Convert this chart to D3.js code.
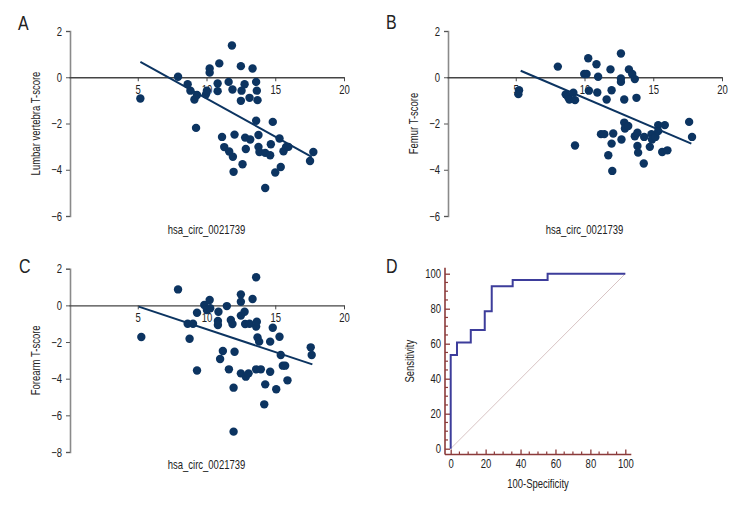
<!DOCTYPE html>
<html>
<head>
<meta charset="utf-8">
<script src="https://cdn.jsdelivr.net/npm/d3@7"></script>
<style>
  body { margin: 0; background: #fff; }
  svg text { font-family: "Liberation Sans", Arial, sans-serif; fill: #222; }
</style>
</head>
<body>
<svg id="chart" width="756" height="516"></svg>
<script>
// ---------- DATA ----------
const lumbarX = [5.19,7.93,8.63,8.83,9.12,9.31,9.24,9.96,10.03,10.23,10.23,10.81,10.81,10.93,11.13,11.29,11.61,11.65,11.85,11.89,11.92,11.97,12.04,12.5,12.55,12.5,12.62,12.77,12.81,12.86,13.13,13.18,13.35,13.61,13.66,13.71,13.61,13.78,13.78,13.85,14.27,14.63,14.27,14.68,14.82,15.0,15.31,15.4,15.6,15.79,15.96,17.53,17.77];
const lumbarY = [-0.92,0.02,-0.30,-0.58,-0.96,-0.77,-2.19,-0.74,-0.58,0.38,0.20,-0.27,-0.60,0.60,-2.58,-3.02,-0.20,-3.21,1.37,-0.53,-3.44,-4.09,-2.48,0.48,-0.58,-1.02,-3.76,-0.30,-2.61,-3.10,-0.89,-2.69,0.38,-0.20,-0.58,-0.99,-1.88,-2.50,-3.01,-3.23,-3.27,-3.37,-4.79,-2.90,-1.93,-4.12,-2.65,-3.88,-3.20,-3.01,-3.01,-3.62,-3.23];
const lumbarFitX = [5.19, 17.65];
const lumbarFitY = [0.67, -3.44];

const femurX = [5.24,5.19,8.06,8.63,8.80,8.90,9.19,9.31,9.31,9.98,10.15,10.27,10.32,10.87,10.99,10.93,11.20,11.44,11.61,11.73,11.89,11.97,11.97,12.09,12.02,12.65,12.65,12.65,12.69,12.89,12.89,12.94,13.18,13.23,13.47,13.66,13.66,13.78,13.85,13.85,13.90,14.31,14.34,14.75,14.87,14.91,15.16,15.36,15.36,15.65,15.84,16.03,17.61,17.82];
const femurY = [-0.56,-0.73,0.46,-0.74,-0.85,-0.96,-0.67,-0.99,-2.95,0.14,0.14,0.82,-0.58,0.56,0.02,-0.66,-2.46,-2.46,-0.96,-3.37,0.34,-0.56,-2.87,-2.43,-4.05,1.03,-0.05,-0.20,-2.69,-0.96,-1.96,-2.22,-2.11,0.34,0.14,-0.08,-2.55,-0.89,-2.40,-2.97,-3.26,-3.73,-2.58,-3.01,-2.46,-2.69,-2.58,-2.07,-2.33,-3.23,-2.07,-3.16,-1.93,-2.58];
const femurFitX = [5.36, 17.77];
const femurFitY = [0.28, -2.87];

const forearmX = [5.26,7.93,8.63,8.77,9.02,9.31,9.31,9.84,10.03,10.23,10.27,10.87,10.83,10.83,10.99,11.19,11.48,11.63,11.77,11.89,11.97,11.97,12.04,12.5,12.5,12.5,12.5,12.77,12.81,12.86,13.06,13.13,13.35,13.61,13.61,13.66,13.71,13.83,13.61,13.95,14.2,14.27,14.63,14.63,14.82,15.07,15.31,15.4,15.55,15.72,15.89,17.58,17.65];
const forearmY = [-1.73,0.87,-1.0,-1.82,-1.0,-0.4,-3.55,0.02,-0.25,0.29,-0.16,-0.35,-0.85,-1.07,-2.93,-2.49,-0.04,-3.49,-0.8,-1.02,-4.49,-6.89,-2.53,0.6,0.2,-0.56,-3.71,-0.35,-1.02,-3.89,-3.71,-1.0,0.35,1.53,-1.16,-0.89,-1.75,-1.98,-3.49,-3.49,-5.4,-4.31,-3.62,-1.98,-1.22,-4.58,-1.71,-2.71,-3.29,-3.29,-4.09,-2.29,-2.71];
const forearmFitX = [5.07, 17.7];
const forearmFitY = [-0.07, -3.22];

const rocFpr = [0, 0, 3.6, 11.5, 19.5, 23.5, 35.5, 55.5, 100];
const rocTpr = [0, 53.6, 60.7, 67.9, 78.6, 92.9, 96.4, 100, 100];

const scatterXTicks = [5, 10, 15, 20];
const lumbarYTicks = [2, 0, -2, -4, -6];
const femurYTicks = [2, 0, -2, -4, -6];
const forearmYTicks = [2, 0, -2, -4, -6, -8];
const rocTicks = [0, 20, 40, 60, 80, 100];

const panelLetters = ["A", "B", "C", "D"];
const xTitle = "hsa_circ_0021739";
const yTitles = ["Lumbar vertebra T-score", "Femur T-score", "Forearm T-score", "Sensitivity"];
const rocXTitle = "100-Specificity";

// ---------- DRAW ----------
const svg = d3.select("#chart");
const DOT = "#0c3461";
const SX = 0.76; // horizontal condensing of text

function condenseAxisText(axisG) {
  axisG.selectAll("text").each(function () {
    const t = d3.select(this);
    const x0 = +(t.attr("x") || 0);
    t.attr("x", x0 / SX).attr("transform", `scale(${SX},1)`);
  });
}
function label(g, x, y, str, size, anchor, rot) {
  return g.append("text")
    .attr("transform", `translate(${x},${y}) rotate(${rot || 0}) scale(${SX},1)`)
    .attr("text-anchor", anchor || "start")
    .style("font-size", size + "px").text(str);
}

function scatterPanel(ox, xs, ys, fitX, fitY, yDomain, yRange, yTicks, yTitle, letter, pos) {
  const g = svg.append("g");
  const x = d3.scaleLinear().domain([0, 20]).range([ox + 69, ox + 344]);
  const y = d3.scaleLinear().domain(yDomain).range(yRange);

  const ya = g.append("g").attr("transform", `translate(${ox + 70},0)`)
    .call(d3.axisLeft(y).tickValues(yTicks).tickFormat(d => d < 0 ? "\u2212" + Math.abs(d) : d).tickSize(4).tickPadding(4));
  ya.select(".domain").attr("stroke", "#8a8a8a").attr("stroke-width", 1.6);
  ya.selectAll(".tick line").attr("stroke", "#555");
  ya.selectAll("text").style("font-size", "12.5px").attr("fill", "#222");
  condenseAxisText(ya);

  const xa = g.append("g").attr("transform", `translate(0,${y(0)})`)
    .call(d3.axisBottom(x).tickValues(scatterXTicks).tickSize(4).tickPadding(4).tickSizeOuter(0));
  xa.select(".domain").attr("stroke", "#444").attr("stroke-width", 1.3);
  xa.selectAll(".tick line").attr("stroke", "#444");
  xa.selectAll("text").style("font-size", "12.5px").attr("fill", "#222");
  condenseAxisText(xa);

  g.append("line")
    .attr("x1", x(fitX[0])).attr("y1", y(fitY[0]))
    .attr("x2", x(fitX[1])).attr("y2", y(fitY[1]))
    .attr("stroke", DOT).attr("stroke-width", 2);

  g.selectAll("circle.pt").data(d3.range(xs.length)).join("circle")
    .attr("class", "pt")
    .attr("cx", i => x(xs[i])).attr("cy", i => y(ys[i]))
    .attr("r", 4.2).attr("fill", DOT);

  label(g, ox + 40, (yRange[0] + yRange[1]) / 2, yTitle, 12.5, "middle", -90);
  label(g, (x(0) + x(20)) / 2, pos[2], xTitle, 12.5, "middle");
  label(g, pos[0], pos[1], letter, 21, "start");
}

scatterPanel(0, lumbarX, lumbarY, lumbarFitX, lumbarFitY, [-6, 2], [216, 31], lumbarYTicks, yTitles[0], panelLetters[0], [18, 30, 234]);
scatterPanel(378, femurX, femurY, femurFitX, femurFitY, [-6, 2], [216, 31], femurYTicks, yTitles[1], panelLetters[1], [386, 29, 234]);
scatterPanel(0, forearmX, forearmY, forearmFitX, forearmFitY, [-8, 2], [452, 268.7], forearmYTicks, yTitles[2], panelLetters[2], [19, 273, 469]);

// ---------- ROC panel ----------
(function () {
  const g = svg.append("g");
  const AX = "#8b3a3a";
  const x = d3.scaleLinear().domain([0, 100]).range([450.7, 625.3]);
  const y = d3.scaleLinear().domain([0, 100]).range([448.7, 273.7]);
  const axX = 445, axY = 454.5;

  const minor = d3.range(0, 101, 5).filter(v => v % 20 !== 0);
  g.selectAll("line.mx").data(minor).join("line")
    .attr("x1", d => x(d)).attr("x2", d => x(d)).attr("y1", axY).attr("y2", axY - 3)
    .attr("stroke", AX).attr("stroke-width", 1.2);
  g.selectAll("line.my").data(minor).join("line")
    .attr("y1", d => y(d)).attr("y2", d => y(d)).attr("x1", axX).attr("x2", axX + 3)
    .attr("stroke", AX).attr("stroke-width", 1.2);

  const xa = g.append("g").attr("transform", `translate(0,${axY})`)
    .call(d3.axisBottom(x).tickValues(rocTicks).tickSizeInner(-5).tickSizeOuter(0).tickPadding(5));
  xa.select(".domain").attr("d", `M${axX},0H${x(100) + 6}`).attr("stroke", AX).attr("stroke-width", 1.6);
  xa.selectAll(".tick line").attr("stroke", AX).attr("stroke-width", 1.3);
  xa.selectAll("text").style("font-size", "12.5px").attr("fill", "#222");
  condenseAxisText(xa);

  const ya = g.append("g").attr("transform", `translate(${axX},0)`)
    .call(d3.axisLeft(y).tickValues(rocTicks).tickSizeInner(-5).tickSizeOuter(0).tickPadding(4));
  ya.select(".domain").attr("d", `M0,${y(100) - 6}V${axY}`).attr("stroke", AX).attr("stroke-width", 1.6);
  ya.selectAll(".tick line").attr("stroke", AX).attr("stroke-width", 1.3);
  ya.selectAll("text").style("font-size", "12.5px").attr("fill", "#222");
  condenseAxisText(ya);

  g.append("line").attr("x1", x(0)).attr("y1", y(0)).attr("x2", x(100)).attr("y2", y(100))
    .attr("stroke", "#d8c4c4").attr("stroke-width", 1);

  const pts = d3.range(rocFpr.length).map(i => [x(rocFpr[i]), y(rocTpr[i])]);
  g.append("path").attr("d", d3.line().curve(d3.curveStepAfter)(pts))
    .attr("fill", "none").attr("stroke", "#3d3d9b").attr("stroke-width", 2);

  label(g, 414, (y(0) + y(100)) / 2, yTitles[3], 12.5, "middle", -90);
  label(g, (x(0) + x(100)) / 2, 488, rocXTitle, 12.5, "middle");
  label(g, 386, 273, panelLetters[3], 21, "start");
})();
</script>
</body>
</html>
